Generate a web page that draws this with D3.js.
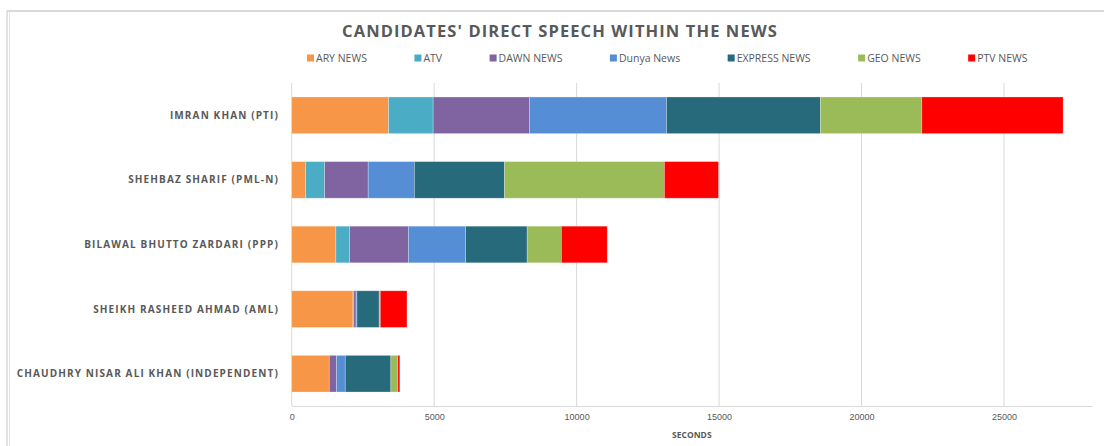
<!DOCTYPE html>
<html>
<head>
<meta charset="utf-8">
<script src="https://cdn.jsdelivr.net/npm/d3@7/dist/d3.min.js"></script>
<style>
	body { margin: 0; background: #fff; }
	svg { display: block; font-family: "Open Sans", "Liberation Sans", sans-serif; }
</style>
</head>
<body>
<div id="viz-container"></div>
<script>
var candidates = ['IMRAN KHAN (PTI)', 'SHEHBAZ SHARIF (PML-N)', 'BILAWAL BHUTTO ZARDARI (PPP)', 'SHEIKH RASHEED AHMAD (AML)', 'CHAUDHRY NISAR ALI KHAN (INDEPENDENT)'];
var channels = ['ARY NEWS', 'ATV', 'DAWN NEWS', 'Dunya News', 'EXPRESS NEWS', 'GEO NEWS', 'PTV NEWS'];
var colors = ['#F79646', '#4BACC6', '#8064A2', '#558ED5', '#276A7C', '#9BBB59', '#FF0000'];

// seconds per channel, one value per candidate (same order as candidates)
var aryNews = [3400, 490, 1550, 2150, 1320];
var atv = [1565, 665, 480, 30, 0];
var dawnNews = [3380, 1530, 2065, 80, 255];
var dunyaNews = [4810, 1620, 2010, 30, 305];
var expressNews = [5400, 3165, 2160, 780, 1600];
var geoNews = [3560, 5610, 1200, 40, 245];
var ptvNews = [4960, 1900, 1610, 935, 70];

var xTicks = [0, 5000, 10000, 15000, 20000, 25000];

var series = [aryNews, atv, dawnNews, dunyaNews, expressNews, geoNews, ptvNews];

var width = 1104, height = 446;
var margin = {top: 83, right: 12, bottom: 40, left: 291.7};
var plotRight = 1092;

var svg = d3.select('#viz-container')
	.append('svg')
	.attr('width', width)
	.attr('height', height);

// chart frame
svg.append('line').attr('x1', 7).attr('x2', width).attr('y1', 11).attr('y2', 11)
	.attr('stroke', '#d9d9d9').attr('stroke-width', 2);
svg.append('line').attr('x1', 7).attr('x2', 7).attr('y1', 11).attr('y2', height)
	.attr('stroke', '#d9d9d9').attr('stroke-width', 1.5);
svg.append('line').attr('x1', 9.5).attr('x2', 9.5).attr('y1', 12).attr('y2', height)
	.attr('stroke', '#e6e6e6').attr('stroke-width', 1);

var x = d3.scaleLinear()
	.domain([0, 25000 * (plotRight - margin.left) / (1004 - margin.left)])
	.range([margin.left, plotRight]);

var y = d3.scaleBand()
	.domain(candidates)
	.range([margin.top, 406])
	.paddingInner(0.433)
	.paddingOuter(0.2165);

// gridlines
svg.append('g')
	.selectAll('line')
	.data(xTicks)
	.enter()
	.append('line')
	.attr('x1', function(d){ return x(d); })
	.attr('x2', function(d){ return x(d); })
	.attr('y1', margin.top)
	.attr('y2', 406)
	.attr('stroke', '#d9d9d9')
	.attr('stroke-width', 1);

// stacked bars
var stackData = candidates.map(function(c, i){
	var row = {candidate: c};
	channels.forEach(function(ch, j){ row[ch] = series[j][i]; });
	return row;
});
var stacked = d3.stack().keys(channels)(stackData);

svg.append('g')
	.selectAll('g')
	.data(stacked)
	.enter()
	.append('g')
	.attr('fill', function(d, i){ return colors[i]; })
	.selectAll('rect')
	.data(function(d){ return d; })
	.enter()
	.append('rect')
	.attr('x', function(d){ return x(d[0]); })
	.attr('y', function(d){ return y(d.data.candidate); })
	.attr('width', function(d){ return Math.max(0, x(d[1]) - x(d[0])); })
	.attr('height', y.bandwidth())
	.attr('stroke', '#fff')
	.attr('stroke-opacity', 0.35)
	.attr('stroke-width', 0.75);

// x axis
var xAxis = svg.append('g')
	.attr('transform', 'translate(0,406)')
	.call(d3.axisBottom(x).tickValues(xTicks).tickSize(0).tickPadding(8).tickFormat(d3.format('d')));
xAxis.select('.domain').attr('stroke', '#d9d9d9');
xAxis.selectAll('text')
	.attr('fill', '#595959')
	.style('font-size', '9px');

svg.append('text')
	.attr('x', (margin.left + plotRight) / 2)
	.attr('y', 438)
	.attr('text-anchor', 'middle')
	.attr('fill', '#595959')
	.style('font-size', '8.5px')
	.style('font-weight', 'bold')
	.text('SECONDS');

// category labels
svg.append('g')
	.selectAll('text')
	.data(candidates)
	.enter()
	.append('text')
	.attr('x', 279)
	.attr('y', function(d){ return y(d) + y.bandwidth() / 2; })
	.attr('dy', '0.35em')
	.attr('text-anchor', 'end')
	.attr('fill', '#595959')
	.style('font-size', '10px')
	.style('font-weight', 'bold')
	.style('letter-spacing', '1.13px')
	.text(function(d){ return d; });

// title
svg.append('text')
	.attr('x', 560)
	.attr('y', 37)
	.attr('text-anchor', 'middle')
	.attr('fill', '#595959')
	.style('font-size', '16.5px')
	.style('font-weight', 'bold')
	.style('letter-spacing', '1.1px')
	.text("CANDIDATES' DIRECT SPEECH WITHIN THE NEWS");

// legend
var legend = svg.append('g').attr('transform', 'translate(307,58)');
var lx = 0;
channels.forEach(function(ch, i){
	var item = legend.append('g').attr('transform', 'translate(' + lx + ',0)');
	item.append('rect')
		.attr('x', 0).attr('y', -3.5)
		.attr('width', 7).attr('height', 7)
		.attr('fill', colors[i]);
	var t = item.append('text')
		.attr('x', 9)
		.attr('dy', '0.35em')
		.attr('fill', '#595959')
		.style('font-size', '10.5px')
		.text(ch);
	lx += 9 + t.node().getComputedTextLength() + 47.5;
});
</script>
</body>
</html>
